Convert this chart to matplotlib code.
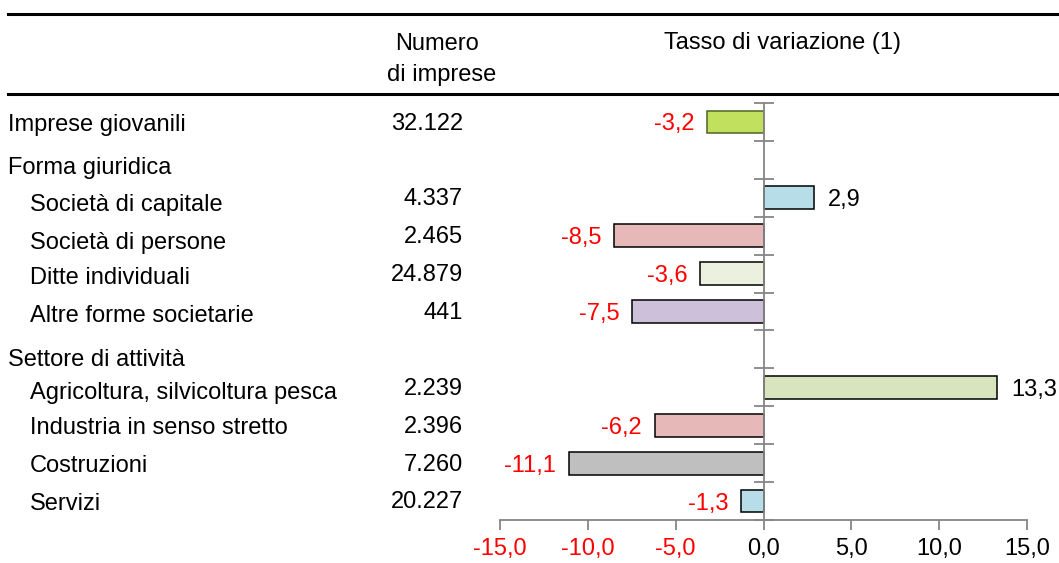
import matplotlib
matplotlib.use("Agg")
import matplotlib.pyplot as plt
from matplotlib.lines import Line2D

plt.rcParams['font.family'] = ['Liberation Sans', 'DejaVu Sans']
FS = 17

# Rows (label, indent, count, change); None for section headers
labels = ["Imprese giovanili", "Forma giuridica", "Società di capitale", "Società di persone",
          "Ditte individuali", "Altre forme societarie", "Settore di attività",
          "Agricoltura, silvicoltura pesca", "Industria in senso stretto", "Costruzioni", "Servizi"]
indent = [0, 0, 1, 1, 1, 1, 0, 1, 1, 1, 1]
counts = ["32.122", None, "4.337", "2.465", "24.879", "441", None, "2.239", "2.396", "7.260", "20.227"]
changes = [-3.2, None, 2.9, -8.5, -3.6, -7.5, None, 13.3, -6.2, -11.1, -1.3]
colors = ["#C0E05E", None, "#B7DDE8", "#E6B9B8", "#EBF1DE", "#CCC0DA", None,
          "#D7E4BD", "#E6B9B8", "#BFBFBF", "#B7DDE8"]
edges = ["#4F6228", None, "black", "black", "black", "black", None,
         "black", "black", "black", "black"]
xticks = [-15, -10, -5, 0, 5, 10, 15]

W, H = 1059, 563
fig = plt.figure(figsize=(W / 100, H / 100), dpi=100)

# layout (pixels): vertical cap-centre of the left-hand labels
label_cy = [122, 165, 202, 240, 276, 314, 357, 390, 425, 464, 501]
CAP_HALF = 8.5


def fy(py):
    return 1 - py / H


ax = fig.add_axes([500 / W, 1 - 520 / H, 527 / W, 417 / H])
ax.set_xlim(-15, 15)
ax.set_ylim(10.5, -0.5)
ax.patch.set_alpha(0)

for i, v in enumerate(changes):
    if v is None:
        continue
    ax.barh(i, v, height=0.6, color=colors[i], edgecolor=edges[i], linewidth=1.1, zorder=3)
    txt = f"{abs(v):.1f}".replace('.', ',')
    if v < 0:
        ax.annotate("-" + txt, (v, i), xytext=(-9, -6.1), textcoords='offset points',
                    ha='right', va='baseline', color='red', fontsize=FS)
    else:
        ax.annotate(txt, (v, i), xytext=(10, -6.1), textcoords='offset points',
                    ha='left', va='baseline', color='black', fontsize=FS)

for s in ['top', 'right']:
    ax.spines[s].set_visible(False)
ax.spines['left'].set_position(('data', 0))
ax.spines['left'].set_color('#868686')
ax.spines['bottom'].set_color('#868686')
ax.spines['left'].set_linewidth(1.3)
ax.spines['bottom'].set_linewidth(1.3)
ax.spines['left'].set_zorder(4)

ax.set_yticks([i - 0.5 for i in range(12)])
ax.set_yticklabels([])
ax.tick_params(axis='y', direction='inout', length=14, width=1.3, color='#868686')
ax.set_xticks(xticks)
ax.set_xticklabels([f"{t:.1f}".replace('.', ',') for t in xticks], fontsize=FS)
ax.tick_params(axis='x', direction='out', length=7, width=1.3, color='#868686', pad=6)
for lab, t in zip(ax.get_xticklabels(), xticks):
    lab.set_color('red' if t < 0 else 'black')

# Left text columns
for i, lab in enumerate(labels):
    x = 8 / W if indent[i] == 0 else 30 / W
    fig.text(x, fy(label_cy[i] + CAP_HALF), lab, ha='left', va='baseline', fontsize=FS)
    if counts[i] is not None:
        row_c = 122 + 37.9 * i - 1
        fig.text(463 / W, fy(row_c + CAP_HALF), counts[i], ha='right', va='baseline',
                 fontsize=FS)

# Headers
fig.text(437 / W, fy(41 + CAP_HALF), "Numero", ha='center', va='baseline', fontsize=FS)
fig.text(442 / W, fy(73 + CAP_HALF), "di imprese", ha='center', va='baseline', fontsize=FS)
fig.text(783 / W, fy(41 + CAP_HALF), "Tasso di variazione (1)", ha='center', va='baseline',
         fontsize=FS)

# Rule lines
for yp in (14, 94):
    fig.add_artist(Line2D([8 / W, 1], [fy(yp), fy(yp)], transform=fig.transFigure,
                          color='black', linewidth=2.2))

fig.savefig("out.png", dpi=100)
